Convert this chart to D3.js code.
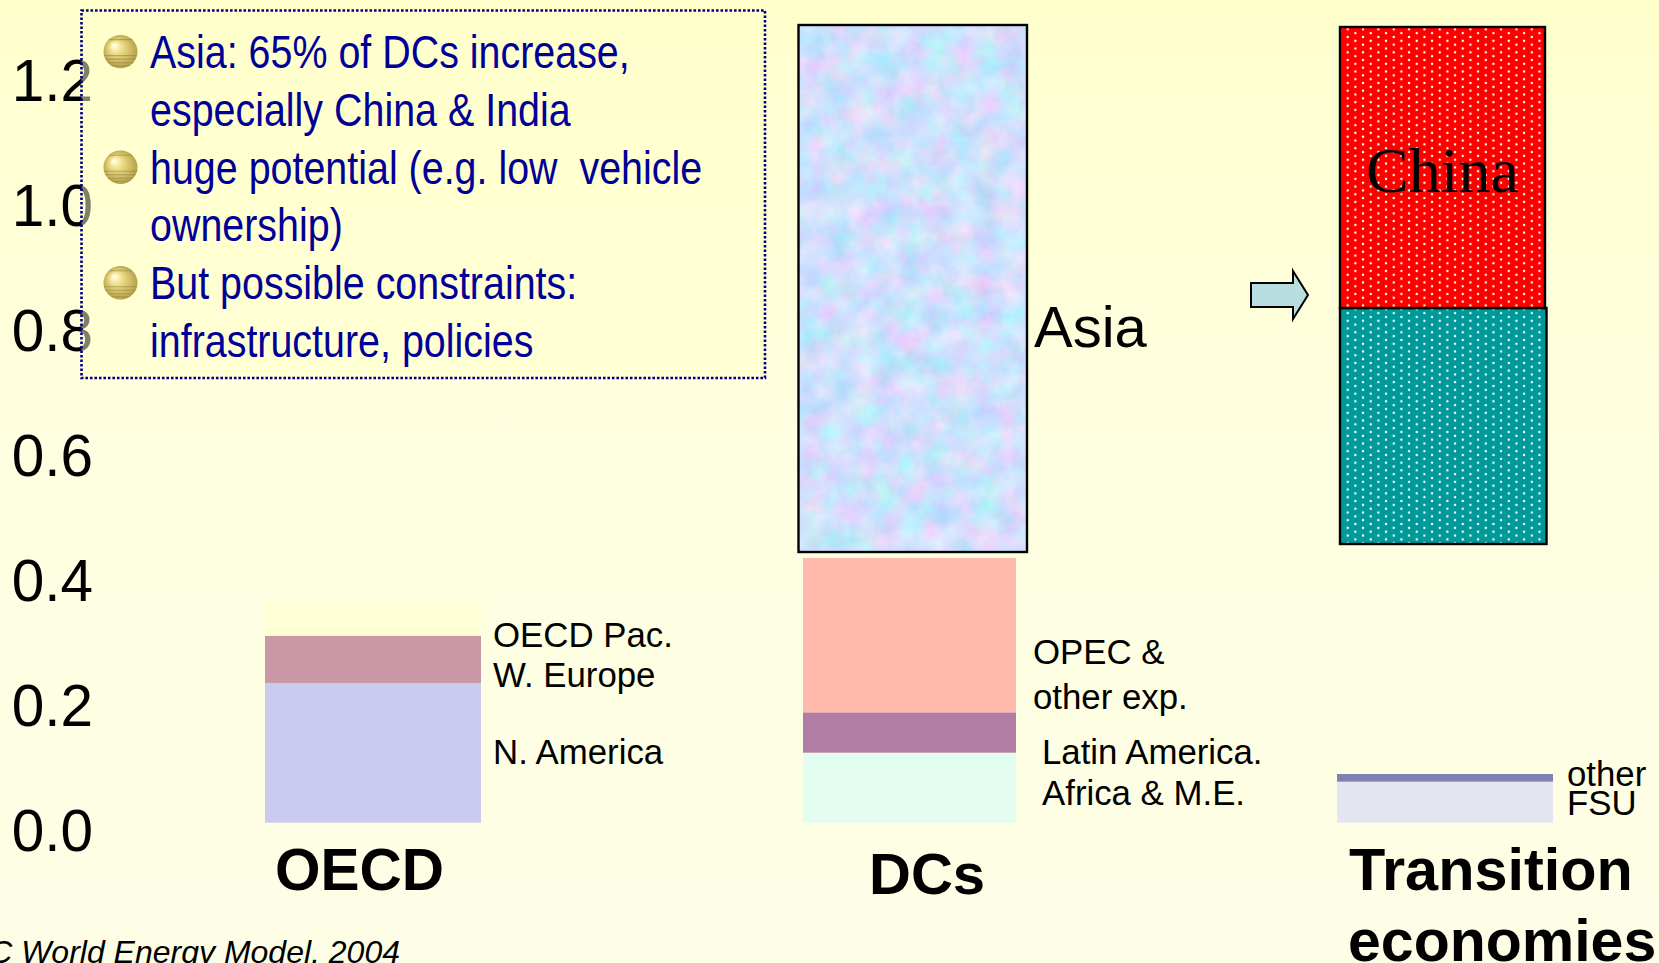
<!DOCTYPE html>
<html>
<head>
<meta charset="utf-8">
<title>Regional increases by country group</title>
<script src="https://cdn.jsdelivr.net/npm/d3@7/dist/d3.min.js"></script>
<style>
  html, body { margin: 0; padding: 0; background: #fefee6; overflow: hidden; }
  svg { display: block; font-family: "Liberation Sans", Arial, sans-serif; }
  text { white-space: pre; }
</style>
</head>
<body>
<svg id="chart" width="1659" height="963"></svg>
<script>
// Axis ticks
const tickValues = [0, 0.2, 0.4, 0.6, 0.8, 1.0, 1.2];

// Stacked columns, bottom segment first
const groups = ["OECD", "DCs", "Transition"];
const oecdSegments = ["N. America", "W. Europe", "OECD Pac."];
const oecdValues = [0.2235, 0.0757, 0.0534];
const oecdColors = ["#cbcbef", "#cb99a5", "#ffffd6"];
const dcSegments = ["Africa & M.E.", "Latin America", "OPEC & other exp."];
const dcValues = [0.112, 0.0646, 0.2469];
const dcColors = ["#e3fcf0", "#b17da5", "#ffb9ad"];
const transitionSegments = ["FSU", "other"];
const transitionValues = [0.0656, 0.0123];
const transitionColors = ["#e5e5f2", "#8080b3"];

// Detail columns floating above the base: [name, from, to]
const detailNames = ["Asia", "Rest of Asia", "China"];
const detailFrom = [0.4331, 0.4459, 0.8235];
const detailTo = [1.2763, 0.8235, 1.2731];

// Text block
const bulletLines = [
  "Asia: 65% of DCs increase,",
  "especially China & India",
  "huge potential (e.g. low  vehicle",
  "ownership)",
  "But possible constraints:",
  "infrastructure, policies"
];
const bulletStarts = [0, 2, 4];

const svg = d3.select("#chart");
const defs = svg.append("defs");

// Page background
const bg = defs.append("linearGradient").attr("id", "pageBg")
  .attr("x1", 0).attr("y1", 0).attr("x2", 0).attr("y2", 1);
bg.append("stop").attr("offset", 0).attr("stop-color", "#ffffcc");
bg.append("stop").attr("offset", 0.45).attr("stop-color", "#fefee0");
bg.append("stop").attr("offset", 1).attr("stop-color", "#fefee7");
svg.append("rect").attr("width", 1659).attr("height", 963).attr("fill", "url(#pageBg)");

// Dotted fills for the detail columns
function dotted(id, color) {
  const p = defs.append("pattern").attr("id", id)
    .attr("patternUnits", "userSpaceOnUse")
    .attr("x", 1343.87).attr("y", 27.4)
    .attr("width", 15.34).attr("height", 7.67);
  p.append("rect").attr("width", 15.34).attr("height", 7.67).attr("fill", color);
  [[3.83, 1.9], [11.5, 5.73]].forEach(([cx, cy]) => {
    p.append("circle").attr("cx", cx).attr("cy", cy).attr("r", 1.2).attr("fill", "#fff");
  });
}
dotted("dotsRed", "#ff0000");
dotted("dotsTeal", "#009999");

// Mottled pastel fill for the Asia column
const mottled = defs.append("filter").attr("id", "mottled")
  .attr("x", 0).attr("y", 0).attr("width", 1).attr("height", 1)
  .attr("color-interpolation-filters", "sRGB");
mottled.append("feTurbulence")
  .attr("type", "fractalNoise").attr("baseFrequency", 0.04)
  .attr("numOctaves", 5).attr("seed", 11);
mottled.append("feColorMatrix").attr("type", "matrix").attr("values", [
  0.4, 0, 0, 0, 0.61,
  -0.1, 0.2, 0, 0, 0.83,
  0, 0, 0.1, 0, 0.94,
  0, 0, 0, 0, 1
].join(" "));

// Gold bullet
const gold = defs.append("radialGradient").attr("id", "gold")
  .attr("cx", 0.5).attr("cy", 0.5).attr("r", 0.56)
  .attr("fx", 0.3).attr("fy", 0.3);
gold.append("stop").attr("offset", 0).attr("stop-color", "#ffffff");
gold.append("stop").attr("offset", 0.14).attr("stop-color", "#fdf6b8");
gold.append("stop").attr("offset", 0.5).attr("stop-color", "#dfcc72");
gold.append("stop").attr("offset", 1).attr("stop-color", "#ab9845");
defs.append("clipPath").attr("id", "bulletClip")
  .append("ellipse").attr("rx", 17).attr("ry", 16.7);

// Scales
const y = d3.scaleLinear().domain([0, 1.2]).range([822.7, 72.7]);
const groupX = d3.scaleOrdinal().domain(groups).range([[265, 481], [803, 1016], [1337, 1553]]);
const detailX = d3.scaleOrdinal().domain(detailNames).range([[798.5, 1027], [1340, 1546.5], [1340, 1545]]);

// Value axis, labels only
const axis = d3.axisLeft(y).tickValues(tickValues).tickFormat(d3.format(".1f")).tickSize(0).tickPadding(0);
const axisG = svg.append("g").attr("transform", "translate(93,0)").call(axis);
axisG.select(".domain").remove();
axisG.selectAll("text")
  .attr("dy", 27.5)
  .attr("font-family", "'Liberation Sans', Arial, sans-serif")
  .attr("font-size", 58.5)
  .attr("fill", "#000");

// Stacked columns
function stacked(group, names, values, colors) {
  const tops = d3.cumsum(values);
  const [x0, x1] = groupX(group);
  svg.append("g").attr("class", "stack").selectAll("rect")
    .data(names)
    .join("rect")
    .attr("x", x0)
    .attr("width", x1 - x0)
    .attr("y", (d, i) => y(tops[i]))
    .attr("height", (d, i) => y(0) - y(values[i]))
    .attr("fill", (d, i) => colors[i]);
}
stacked("OECD", oecdSegments, oecdValues, oecdColors);
stacked("DCs", dcSegments, dcValues, dcColors);
stacked("Transition", transitionSegments, transitionValues, transitionColors);

// Detail columns
const detailFill = { "Asia": "#ccd", "Rest of Asia": "url(#dotsTeal)", "China": "url(#dotsRed)" };
detailNames.forEach((name, i) => {
  const [x0, x1] = detailX(name);
  const top = y(detailTo[i]);
  const h = y(detailFrom[i]) - top;
  const r = svg.append("rect").attr("x", x0).attr("y", top).attr("width", x1 - x0).attr("height", h)
    .attr("fill", detailFill[name]);
  if (name === "Asia") r.attr("filter", "url(#mottled)");
  svg.append("rect").attr("x", x0).attr("y", top).attr("width", x1 - x0).attr("height", h)
    .attr("fill", "none").attr("stroke", "#000").attr("stroke-width", 2.4);
});

// Arrow pointing at the detail columns
svg.append("path")
  .attr("d", d3.line()([[1251, 283], [1293, 283], [1293, 271], [1308, 295], [1293, 319], [1293, 307], [1251, 307]]) + "Z")
  .attr("fill", "#b8dee0").attr("stroke", "#000").attr("stroke-width", 2);

// Text block: translucent panel over the axis labels
svg.append("rect")
  .attr("x", 81.5).attr("y", 10.5).attr("width", 683.5).attr("height", 367.5)
  .attr("fill", "#ffffcc").attr("fill-opacity", 0.5)
  .attr("stroke", "#000080").attr("stroke-width", 2.6).attr("stroke-dasharray", "2.6 1.9");

const lineStep = 57.8, firstBaseline = 68;
svg.append("g").attr("transform", "translate(150,0) scale(0.857,1)")
  .selectAll("text").data(bulletLines).join("text")
  .attr("x", 0)
  .attr("y", (d, i) => firstBaseline + i * lineStep)
  .attr("font-size", 46)
  .attr("fill", "#000099")
  .text(d => d);

const bullets = svg.append("g").selectAll("g").data(bulletStarts).join("g")
  .attr("transform", d => `translate(120.5,${51.6 + d * lineStep})`);
bullets.append("ellipse").attr("rx", 17).attr("ry", 16.7).attr("fill", "url(#gold)");
bullets.each(function () {
  d3.select(this).append("g").attr("clip-path", "url(#bulletClip)")
    .selectAll("line").data([-12, 4, 7.5, 11, 14]).join("line")
    .attr("x1", -18).attr("x2", 18)
    .attr("y1", d => d).attr("y2", d => d)
    .attr("stroke", "#8f8240").attr("stroke-opacity", 0.55).attr("stroke-width", 1.1);
});

// Text labels
function label(str, x, baseline, size, opts = {}) {
  return svg.append("text")
    .attr("x", x).attr("y", baseline)
    .attr("font-size", size)
    .attr("font-weight", opts.weight || "normal")
    .attr("font-style", opts.style || "normal")
    .attr("font-family", opts.family || null)
    .attr("text-anchor", opts.anchor || "start")
    .attr("fill", "#000")
    .text(str);
}
label("OECD Pac.", 493, 646.5, 34.8);
label("W. Europe", 493, 686.5, 34.8);
label("N. America", 493, 763.5, 34.8);
label("OPEC &", 1033, 664, 34.8);
label("other exp.", 1033, 709, 34.8);
label("Latin America.", 1042, 764, 34.8);
label("Africa & M.E.", 1042, 805, 34.8);
label("other", 1567, 785.5, 34.8);
label("FSU", 1567, 815, 34.8);
label("Asia", 1034, 347, 58);
label("China", 1366, 192, 64, { family: "'Liberation Serif', 'Times New Roman', serif" });
label("OECD", 275, 890, 58.5, { weight: "bold" });
label("DCs", 869, 893.5, 58, { weight: "bold" });
label("Transition", 1349, 890, 59.4, { weight: "bold" });
label("economies", 1348, 960.5, 59, { weight: "bold" });
label("C World Energy Model, 2004", 400, 963, 32, { style: "italic", anchor: "end" });
</script>
</body>
</html>
